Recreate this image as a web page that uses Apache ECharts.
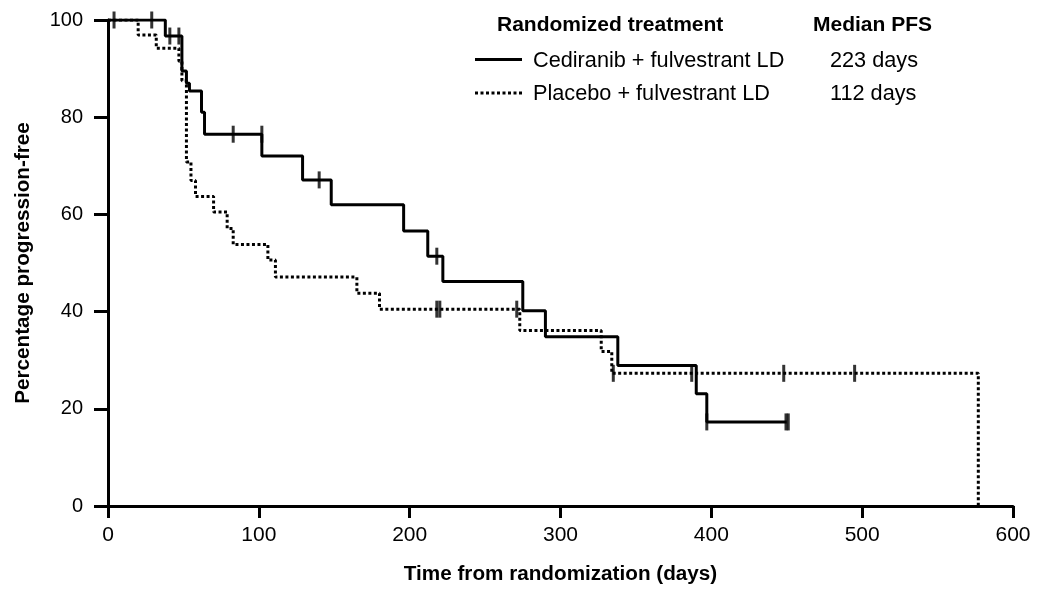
<!DOCTYPE html>
<html lang="en">
<head>
    <meta charset="UTF-8">
    <title>PFS</title>
    <script src="https://cdn.jsdelivr.net/npm/echarts@6/dist/echarts.min.js"></script>
    <style>
        html, body { margin: 0; padding: 0; background: #fff; }
        #chartmain { width: 1040px; height: 590px; }
    </style>
</head>
<body>
<div id="chartmain"></div>
<script type="text/javascript">
    // Kaplan-Meier steps: [day, % progression-free]
    var cediranibSteps = [
        [0, 100], [38, 96.7], [49, 89.5], [52, 87], [54, 85.4], [62, 81], [64, 76.5],
        [102, 72], [129, 67.1], [148, 62], [196, 56.6], [212, 51.4], [222, 46.2],
        [275, 40.2], [290, 34.8], [338, 28.9], [390, 23.1], [397, 17.3], [450, 17.3]
    ];
    var placeboSteps = [
        [0, 100], [20, 96.9], [32, 94.2], [47, 91.5], [49, 87.5], [52, 70.8], [55, 67],
        [58, 63.7], [70, 60.5], [79, 57.1], [83, 53.8], [106, 50.6], [111, 47.1],
        [165, 43.8], [180, 40.5], [273, 36.1], [327, 31.8], [334, 27.3], [577, 27.3], [577, 0]
    ];
    // censored observations
    var cediranibCensor = [
        [4, 100], [29, 100], [41, 96.7], [47, 96.7], [83, 76.5], [102, 76.5],
        [140, 67.1], [218, 51.4], [397, 17.3], [449.5, 17.3], [451, 17.3]
    ];
    var placeboCensor = [
        [218, 40.5], [220, 40.5], [271, 40.5], [335, 27.3], [387, 27.3], [448, 27.3], [495, 27.3]
    ];
    var xTicks = [0, 100, 200, 300, 400, 500, 600];
    var yTicks = [0, 20, 40, 60, 80, 100];

    var legendHead = ['Randomized treatment', 'Median PFS'];
    var groups = ['Cediranib + fulvestrant LD', 'Placebo + fulvestrant LD'];
    var medians = ['223 days', '112 days'];

    var font = 'Liberation Sans, Arial, Helvetica, sans-serif';
    var myChart = echarts.init(document.getElementById('chartmain'));

    var option = {
        animation: false,
        textStyle: { fontFamily: font, color: '#000' },
        grid: { left: 108, right: 27, top: 20, bottom: 84 },
        xAxis: {
            type: 'value',
            min: xTicks[0], max: xTicks[xTicks.length - 1], interval: 100,
            name: 'Time from randomization (days)',
            nameLocation: 'middle', nameGap: 58,
            nameTextStyle: { fontSize: 20.7, fontWeight: 'bold', color: '#000', fontFamily: font },
            axisLine: { lineStyle: { color: '#000', width: 3 } },
            axisTick: { length: 12, lineStyle: { color: '#000', width: 3 } },
            axisLabel: { fontSize: 21, color: '#000', margin: 19, fontFamily: font },
            splitLine: { show: false }
        },
        yAxis: {
            type: 'value',
            min: yTicks[0], max: yTicks[yTicks.length - 1], interval: 20,
            name: 'Percentage progression-free',
            nameLocation: 'middle', nameGap: 74,
            nameTextStyle: { fontSize: 20.7, fontWeight: 'bold', color: '#000', fontFamily: font },
            axisLine: { show: true, lineStyle: { color: '#000', width: 3 } },
            axisTick: { show: true, length: 14, lineStyle: { color: '#000', width: 3 } },
            axisLabel: { fontSize: 20, color: '#000', margin: 25, fontFamily: font },
            splitLine: { show: false }
        },
        graphic: [
            { type: 'text', x: 497, y: 25, style: { text: legendHead[0], font: 'bold 21px ' + font, fill: '#000', verticalAlign: 'middle' } },
            { type: 'text', x: 813, y: 25, style: { text: legendHead[1], font: 'bold 21px ' + font, fill: '#000', verticalAlign: 'middle' } },
            { type: 'line', shape: { x1: 475, y1: 59.5, x2: 522, y2: 59.5 }, style: { stroke: '#000', lineWidth: 3 } },
            { type: 'text', x: 533, y: 61, style: { text: groups[0], font: '21.7px ' + font, fill: '#000', verticalAlign: 'middle' } },
            { type: 'text', x: 830, y: 61, style: { text: medians[0], font: '21.7px ' + font, fill: '#000', verticalAlign: 'middle' } },
            { type: 'line', shape: { x1: 475, y1: 93, x2: 522, y2: 93 }, style: { stroke: '#000', lineWidth: 3, lineDash: [3, 2.5] } },
            { type: 'text', x: 533, y: 94, style: { text: groups[1], font: '21.7px ' + font, fill: '#000', verticalAlign: 'middle' } },
            { type: 'text', x: 830, y: 94, style: { text: medians[1], font: '21.7px ' + font, fill: '#000', verticalAlign: 'middle' } }
        ],
        series: [
            {
                name: groups[0], type: 'line', step: 'end', data: cediranibSteps,
                showSymbol: false, symbol: 'none',
                lineStyle: { color: '#000', width: 3 }, z: 3
            },
            {
                name: groups[1], type: 'line', step: 'end', data: placeboSteps,
                showSymbol: false, symbol: 'none',
                lineStyle: { color: '#000', width: 3, type: [3, 2.5] }, z: 2
            },
            {
                type: 'scatter', data: cediranibCensor, symbol: 'rect', symbolSize: [3, 17],
                itemStyle: { color: '#000' }, z: 4
            },
            {
                type: 'scatter', data: placeboCensor, symbol: 'rect', symbolSize: [3, 17],
                itemStyle: { color: '#000' }, z: 4
            }
        ]
    };
    myChart.setOption(option);
</script>
</body>
</html>
